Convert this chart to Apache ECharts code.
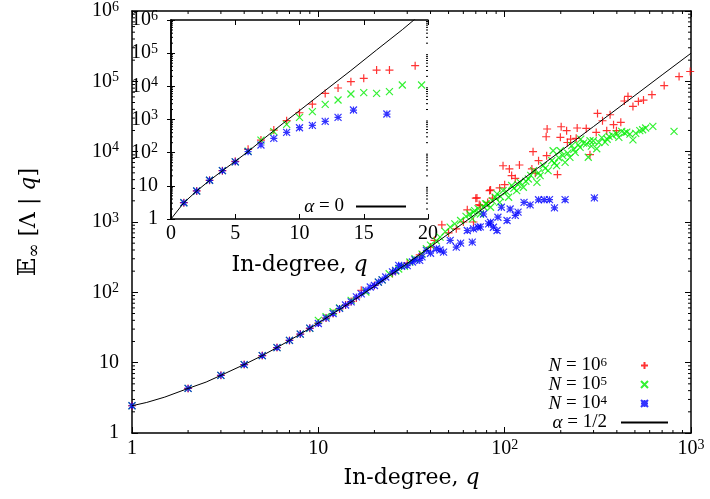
<!DOCTYPE html>
<html><head><meta charset="utf-8">
<script src="https://cdn.jsdelivr.net/npm/echarts@6/dist/echarts.min.js"></script>
<style>html,body{margin:0;padding:0;background:#fff}#c{width:710px;height:499px}</style>
</head><body><div id="c"></div>
<script>
// ---------- data ----------
const qCurveHalf = [1,1.2,1.5,2,2.5,3,4,5,6,7,8,9,10,15,20,30,50,70,100,150,200,300,500,700,1000];
const vCurveHalf = [2.44,2.72,3.24,4.3,5.3,6.6,9.4,12.6,16.4,20.7,25.5,30.8,36.6,73,122,258,680,1300,2610,5790,10200,22800,63000,123500,251000];
const qCurveZero = [0,1,2,3,4,5,6,7,8,9,10,12,14,16,18,19.2];
const vCurveZero = [1,3.1,7,14.5,28.5,55,108,225,460,930,1850,7500,30000,125000,510000,1250000];

const mainRed = [[1,2.44],[2,4.3],[3,6.6],[4,9.4],[5,12.6],[6,16.4],[7,20.7],[8,25.5],[9,30.8],[10,36.6],[11,43],[12,50],[13,58],[14,66],[15,74],[16,83],[17,107],[20,125],[25,185],[30,260],[35,340],[40,440],[42,547],[46,912],[50,700],[55,800],[60,1000],[63,1490],[68,1000],[70,2180],[71,2200],[73,1770],[74,1710],[81,1900],[83,2800],[84,2860],[86,2180],[94,3050],[98,6310],[100,3390],[106,5690],[109,4570],[114,4170],[120,6460],[140,5690],[142,10000],[146,4940],[152,7450],[167,16300],[168,8770],[169,21000],[192,4730],[199,16000],[201,22600],[215,19900],[217,13500],[226,15100],[242,15500],[245,21700],[274,21400],[287,9060],[310,18800],[315,35000],[335,27500],[353,19900],[368,33500],[384,24200],[398,19900],[420,26100],[439,52500],[459,61000],[488,44000],[522,51800],[556,54100],[617,64600],[718,87100],[863,117000],[990,138000]];
const mainGreen = [[1,2.44],[2,4.3],[3,6.6],[4,9.4],[5,12.6],[6,16.4],[7,20.7],[8,25.5],[9,30.8],[10,40],[11,45],[12,53],[13,60],[15,77],[18,101],[21,140],[22,150],[24,184],[26,200],[27,215],[29,234],[31,270],[33,300],[36,350],[38,417],[40,470],[43,540],[45,610],[48,730],[51,845],[54,940],[58,1050],[62,1200],[65,1300],[67,1110],[68,1380],[69,1450],[72,1550],[74,1300],[77,1650],[79,1810],[80,1810],[84,1620],[86,2000],[89,2250],[91,2510],[94,1900],[95,2300],[98,2800],[102,2700],[105,2250],[109,3300],[112,3000],[116,2800],[118,3400],[121,3660],[126,3120],[130,3800],[134,4090],[138,4600],[143,5370],[149,3660],[152,5000],[155,4560],[161,6320],[165,5800],[171,5370],[179,7450],[182,10300],[185,6900],[190,6320],[195,8200],[199,10300],[205,8800],[211,7050],[218,9500],[224,8300],[229,12200],[235,10800],[239,9770],[248,12500],[254,11500],[256,15100],[265,13200],[275,12900],[281,8320],[287,14300],[292,12000],[299,14300],[312,11000],[320,13500],[332,15800],[346,13700],[355,15000],[363,16500],[380,17000],[399,18000],[410,16000],[425,19400],[440,18500],[452,19000],[470,17800],[488,14700],[505,18200],[531,19900],[550,20500],[571,21700],[624,22900],[811,19400]];
const mainBlue = [[1,2.44],[2,4.3],[3,6.6],[4,9.4],[5,12.6],[6,16.4],[7,20.7],[8,25.5],[9,31],[10,36],[11,43],[12,50],[13,59],[14,66],[15,73],[16,86],[17,95],[18,107],[19,119],[20,125],[21,140],[22,150],[23,165],[25,195],[26,205],[27,242],[28,235],[30,240],[32,270],[33,290],[35,284],[36,320],[38,394],[40,360],[43,416],[45,400],[47,373],[51,547],[55,440],[58,500],[63,757],[67,518],[68,800],[72,843],[74,851],[77,1300],[82,940],[84,993],[87,843],[91,757],[92,1170],[96,1620],[103,1050],[107,1530],[114,1240],[118,1380],[127,1900],[137,1750],[152,2070],[163,2080],[174,2080],[185,1590],[211,2080],[303,2200]];

const insetRed = [[1,3.1],[2,7],[3,14.7],[4,28.6],[5,55],[6,126],[7,240],[8,480],[9,920],[10,1600],[11,2900],[12,6100],[13,8900],[14,13800],[15,17400],[16,31000],[17,31000],[19,42000]];
const insetGreen = [[1,3.1],[2,7],[3,14.7],[4,28.6],[5,53],[6,110],[7,240],[8,430],[9,716],[10,1160],[11,1720],[12,2870],[13,3880],[14,5870],[15,6440],[16,6140],[17,6900],[18,10960],[19.5,10960]];
const insetBlue = [[1,3.1],[2,7],[3,14.7],[4,28.6],[5,53],[6,107],[7,170],[8,270],[9,410],[10,565],[11,665],[12,880],[13,1160],[14.2,1930],[16.8,1460]];

const mainXTicks = [1,10,100,1000];
const mainYTicks = [1,10,100,1e3,1e4,1e5,1e6];
const insetXTicks = [0,5,10,15,20];
const insetYTicks = [1,10,100,1e3,1e4,1e5,1e6];

const legendText = {
  N6: '{it|N} = 10{sup|6}{gap| }',
  N5: '{it|N} = 10{sup|5}{gap| }',
  N4: '{it|N} = 10{sup|4}{gap| }',
  a12: '{it|α} = 1/2{gap| }',
  a0: '{it|α} = 0{gap| }'
};

// ---------- helpers ----------
const SERIF = 'Liberation Serif';
const TITLE_FONT = 'DejaVu Serif';
function powLabel(v){
  const n = Math.round(Math.log10(v));
  if (n === 0) return '1';
  if (n === 1) return '10';
  return '10{sup|' + n + '}';
}
function minorList(decades){
  const out = [];
  decades.forEach(d => { for (let m = 2; m <= 9; m++) out.push(d*m); });
  return out;
}
const labelRich = { sup: { fontSize: 14, lineHeight: 14, verticalAlign: 'top', fontFamily: SERIF, color: '#000' } };
const axisLineStyle = { color: '#000', width: 1.5 };

function logAxis(gridIndex, pos, ticks, showLabel, tickLen, margin){
  return {
    type: 'log', logBase: 10, gridIndex: gridIndex, position: pos,
    min: ticks[0], max: ticks[ticks.length-1],
    axisLine: { show: true, lineStyle: axisLineStyle },
    axisTick: { show: true, inside: true, length: tickLen, lineStyle: { color: '#000', width: 1 } },
    axisLabel: { show: showLabel, margin: margin, fontFamily: SERIF, fontSize: 20, color: '#000', lineHeight: 22,
      formatter: powLabel, rich: labelRich },
    splitLine: { show: false }
  };
}

const plusSym = 'path://M0,-1L0,1M-1,0L1,0';
const crossSym = 'path://M-1,-1L1,1M-1,1L1,-1';
const starSym = 'path://M0,-1L0,1M-1,0L1,0M-1,-1L1,1M-1,1L1,-1';

function scatter(name, data, sym, color, xi, yi, size){
  return {
    type: 'scatter', name: name, data: data, xAxisIndex: xi, yAxisIndex: yi,
    symbol: sym, symbolSize: size,
    itemStyle: { color: 'rgba(0,0,0,0)', borderColor: color, borderWidth: 1.2 },
    emphasis: { disabled: true }, silent: true
  };
}

function minorTicks(xi, yi, data, isX, len){
  return {
    type: 'custom', xAxisIndex: xi, yAxisIndex: yi, data: data, silent: true, clip: false, z: 5,
    renderItem: function(params, api){
      const p = api.coord([api.value(0), api.value(1)]);
      const cs = params.coordSys;
      const st = { stroke: '#000', lineWidth: 1 };
      if (isX) {
        return { type: 'group', children: [
          { type: 'line', shape: { x1: p[0], y1: cs.y + cs.height, x2: p[0], y2: cs.y + cs.height - len }, style: st },
          { type: 'line', shape: { x1: p[0], y1: cs.y, x2: p[0], y2: cs.y + len }, style: st }
        ]};
      }
      return { type: 'group', children: [
        { type: 'line', shape: { x1: cs.x, y1: p[1], x2: cs.x + len, y2: p[1] }, style: st },
        { type: 'line', shape: { x1: cs.x + cs.width, y1: p[1], x2: cs.x + cs.width - len, y2: p[1] }, style: st }
      ]};
    }
  };
}

const mainXMinor = minorList([1,10,100]).map(q => [q, 1]);
const mainYMinor = minorList([1,10,100,1e3,1e4,1e5]).map(v => [1, v]);
const insetYMinor = minorList([1,10,100,1e3,1e4,1e5]).map(v => [0, v]);

const chart = echarts.init(document.getElementById('c'), null, { renderer: 'canvas' });

const insetX = {
  type: 'value', gridIndex: 1, position: 'bottom', min: insetXTicks[0], max: insetXTicks[insetXTicks.length-1], interval: 5,
  axisLine: { show: true, lineStyle: axisLineStyle },
  axisTick: { show: true, inside: true, length: 5, lineStyle: { color: '#000', width: 1 } },
  axisLabel: { show: true, margin: 4, fontFamily: SERIF, fontSize: 20, color: '#000', lineHeight: 22 },
  splitLine: { show: false },
  name: 'In-degree, {it|q}', nameLocation: 'middle', nameGap: 33,
  nameTextStyle: { fontFamily: TITLE_FONT, fontSize: 22, color: '#000', lineHeight: 26,
    rich: { it: { fontStyle: 'italic', fontFamily: TITLE_FONT, fontSize: 22 } } }
};
const insetXTop = Object.assign({}, insetX, { position: 'top', axisLabel: { show: false }, name: '' });

const mainX = logAxis(0, 'bottom', mainXTicks, true, 6, 5);
Object.assign(mainX, {
  name: 'In-degree, {it|q}', nameLocation: 'middle', nameGap: 24,
  nameTextStyle: { fontFamily: TITLE_FONT, fontSize: 22, color: '#000', lineHeight: 26,
    rich: { it: { fontStyle: 'italic', fontFamily: TITLE_FONT, fontSize: 22 } } }
});
const mainY = logAxis(0, 'left', mainYTicks, true, 6, 13);
Object.assign(mainY, {
  name: '{bb|𝔼}{sub|∞} [Λ | {it|q}]', nameLocation: 'middle', nameGap: 89, nameRotate: 90,
  nameTextStyle: { fontFamily: TITLE_FONT, fontSize: 22, color: '#000', lineHeight: 28,
    rich: {
      bb: { fontSize: 24, fontFamily: TITLE_FONT, lineHeight: 28, verticalAlign: 'middle' },
      sub: { fontSize: 17, lineHeight: 17, verticalAlign: 'bottom', fontFamily: TITLE_FONT },
      it: { fontStyle: 'italic', fontFamily: TITLE_FONT, fontSize: 22 }
    } }
});

const insetY = logAxis(1, 'left', insetYTicks, true, 4, 13);

chart.setOption({
  animation: false,
  backgroundColor: '#fff',
  grid: [
    { left: 132, top: 10, right: 19, bottom: 66, containLabel: false },
    { left: 171, top: 20, width: 257, height: 199, containLabel: false }
  ],
  xAxis: [
    mainX,
    logAxis(0, 'top', mainXTicks, false, 6, 5),
    insetX,
    insetXTop
  ],
  yAxis: [
    mainY,
    logAxis(0, 'right', mainYTicks, false, 6, 13),
    insetY,
    logAxis(1, 'right', insetYTicks, false, 4, 13)
  ],
  legend: [
    { data: ['N6','N5','N4', { name: 'a12', itemStyle: { opacity: 0 } }], orient: 'vertical', align: 'right', right: 41, top: 356,
      itemWidth: 47, itemHeight: 7, itemGap: 0, padding: 0, selectedMode: false,
      formatter: n => legendText[n],
      textStyle: { fontFamily: SERIF, fontSize: 19, lineHeight: 18, color: '#000',
        rich: { it: { fontStyle: 'italic' }, sup: { fontSize: 13, lineHeight: 12, verticalAlign: 'top' }, gap: { width: 9 } } } },
    { data: [{ name: 'a0', itemStyle: { opacity: 0 } }], orient: 'vertical', align: 'right', right: 303, top: 197,
      itemWidth: 50, itemHeight: 7, itemGap: 0, padding: 0, selectedMode: false,
      formatter: n => legendText[n],
      textStyle: { fontFamily: SERIF, fontSize: 19, lineHeight: 18, color: '#000',
        rich: { it: { fontStyle: 'italic' }, gap: { width: 7 } } } }
  ],
  series: [
    scatter('N6', mainRed, plusSym, '#ff0000', 0, 0, 8),
    scatter('N5', mainGreen, crossSym, '#00ee00', 0, 0, 7),
    scatter('N4', mainBlue, starSym, '#0000ff', 0, 0, 7),
    { type: 'line', name: 'a12', xAxisIndex: 0, yAxisIndex: 0, showSymbol: false, symbol: 'none',
      data: qCurveHalf.map((q, i) => [q, vCurveHalf[i]]),
      lineStyle: { color: '#000', width: 1 }, itemStyle: { color: '#000' }, silent: true, z: 3 },
    scatter('iN6', insetRed, plusSym, '#ff0000', 2, 2, 8),
    scatter('iN5', insetGreen, crossSym, '#00ee00', 2, 2, 7),
    scatter('iN4', insetBlue, starSym, '#0000ff', 2, 2, 7),
    { type: 'line', name: 'a0', xAxisIndex: 2, yAxisIndex: 2, showSymbol: false, symbol: 'none',
      data: qCurveZero.map((q, i) => [q, vCurveZero[i]]),
      lineStyle: { color: '#000', width: 1 }, itemStyle: { color: '#000' }, silent: true, z: 3 },
    minorTicks(0, 0, mainXMinor, true, 3),
    minorTicks(0, 0, mainYMinor, false, 3),
    minorTicks(2, 2, insetYMinor, false, 2)
  ]
});
</script>
</body></html>
